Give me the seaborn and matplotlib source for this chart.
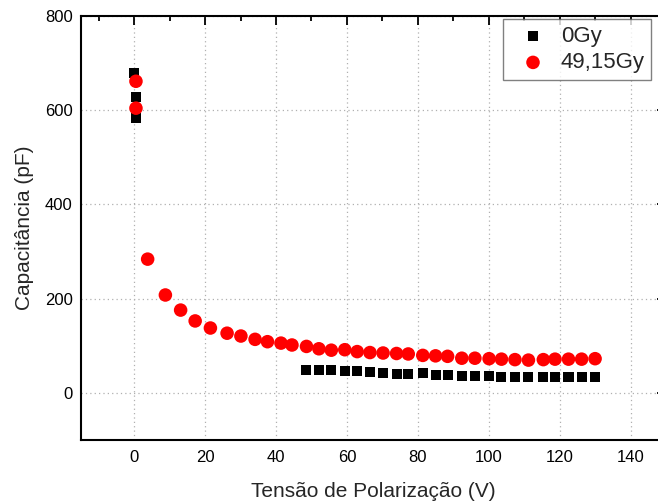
import matplotlib
matplotlib.use("Agg")
import matplotlib.pyplot as plt
from matplotlib.ticker import MultipleLocator
import seaborn as sns
import pandas as pd

# Bias voltage (V) and capacitance (pF) for each dose
v_0gy = [0.0, 0.5, 0.5,
         48.6, 52.1, 55.6, 59.4, 62.9, 66.5, 70.2, 74.0, 77.3, 81.4, 85.0,
         88.4, 92.4, 96.1, 100.1, 103.6, 107.4, 111.2, 115.4, 118.7, 122.5,
         126.2, 130.0]
c_0gy = [678, 627, 584,
         48, 49, 48, 46, 46, 44, 42, 41, 41, 42, 39, 39, 37, 37, 37, 35, 35,
         35, 35, 35, 35, 34, 35]

v_49gy = [0.5, 0.5, 3.8, 8.8, 13.1, 17.2, 21.5, 26.2, 30.1, 34.1, 37.6, 41.4,
          44.5, 48.6, 52.1, 55.6, 59.4, 62.9, 66.5, 70.2, 74.0, 77.3, 81.4,
          85.0, 88.4, 92.4, 96.1, 100.1, 103.6, 107.4, 111.2, 115.4, 118.7,
          122.5, 126.2, 130.0]
c_49gy = [661, 604, 284, 208, 176, 153, 138, 127, 121, 114, 109, 106,
          102, 99, 94, 91, 92, 88, 86, 85, 84, 83, 80, 79, 78, 74, 74, 73,
          72, 71, 70, 71, 72, 72, 72, 73]

labels = ["0Gy", "49,15Gy"]
x_ticks = [0, 20, 40, 60, 80, 100, 120, 140]
y_ticks = [0, 200, 400, 600, 800]

sns.set_style("white")
plt.rcParams["font.family"] = ["Liberation Sans", "DejaVu Sans"]

df0 = pd.DataFrame({"V": v_0gy, "C": c_0gy})
df1 = pd.DataFrame({"V": v_49gy, "C": c_49gy})

fig = plt.figure(figsize=(6.58, 5.04), dpi=100)
ax = fig.add_axes([81 / 658, (504 - 440.3) / 504,
                   (666 - 81) / 658, (440.3 - 15.7) / 504])

sns.scatterplot(data=df0, x="V", y="C", ax=ax, marker="s", s=52,
                color="black", edgecolor="none", label=labels[0], zorder=3)
sns.scatterplot(data=df1, x="V", y="C", ax=ax, marker="o", s=95,
                color="#ff0000", edgecolor="none", label=labels[1], zorder=4)

ax.set_xlim(-15, 150)
ax.set_ylim(-100, 800)
ax.set_xticks(x_ticks)
ax.set_yticks(y_ticks)
ax.xaxis.set_minor_locator(MultipleLocator(10))
ax.yaxis.set_minor_locator(MultipleLocator(100))

ax.grid(True, which="major", linestyle=(0, (1, 2.5)), color="#b0b0b0",
        linewidth=0.9)
ax.set_axisbelow(True)

for sp in ax.spines.values():
    sp.set_linewidth(1.5)
    sp.set_color("black")

ax.tick_params(which="both", direction="in", top=True, right=True,
               width=1.3, labelsize=12, colors="black")
ax.tick_params(which="major", length=6.5)
ax.tick_params(which="minor", length=3.5)
ax.tick_params(axis="x", pad=7)
ax.tick_params(axis="y", pad=6)

ax.set_xlabel("Tensão de Polarização (V)", fontsize=15, labelpad=12.5)
ax.set_ylabel("Capacitância (pF)", fontsize=15, labelpad=7.5)

leg = ax.legend(loc="upper left",
                bbox_to_anchor=((503 - 81) / 585, 1 - (19 - 15.7) / 424.6),
                fontsize=16, frameon=True, fancybox=False, borderpad=0.3,
                handlelength=2.1, handletextpad=0.2, labelspacing=0.25,
                borderaxespad=0)
leg.get_frame().set_edgecolor("#606060")
leg.get_frame().set_linewidth(1.0)

fig.savefig("out.png", dpi=100)
